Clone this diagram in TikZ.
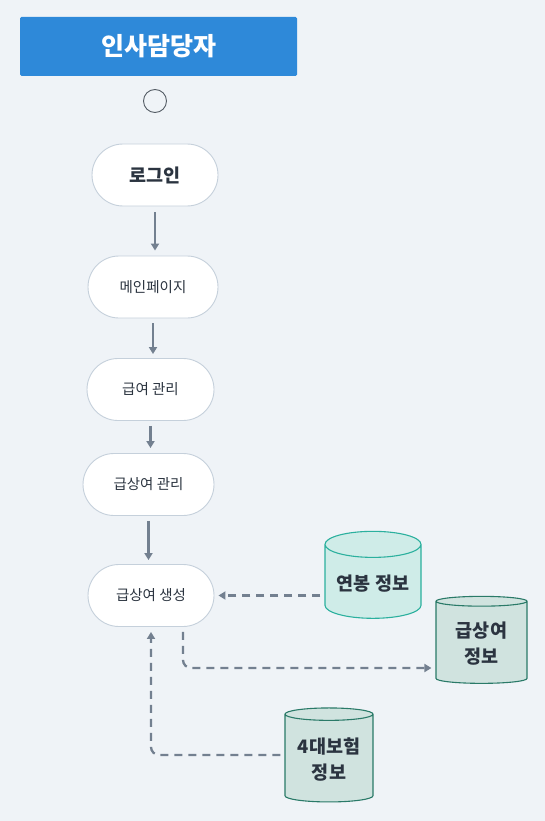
\documentclass[tikz,border=0pt]{standalone}
\usepackage{fontspec}
\setmainfont{Noto Sans CJK KR}
\usepackage{tikz}
\usetikzlibrary{arrows.meta, positioning, shapes.geometric, calc}

\definecolor{bgcol}{HTML}{EFF3F7}
\definecolor{titleblue}{HTML}{2E89D9}
\definecolor{edgegray}{HTML}{C5D0DB}
\definecolor{arrowgray}{HTML}{738090}
\definecolor{inkcol}{HTML}{2B3440}
\definecolor{tealfill}{HTML}{CFECE8}
\definecolor{tealline}{HTML}{2BB09E}
\definecolor{sagefill}{HTML}{D0E3DF}
\definecolor{sageline}{HTML}{2A7A68}

\tikzset{
    stepnode/.style={draw=edgegray, line width=0.9pt, fill=white, rounded corners=31pt,
        minimum height=62pt, text=inkcol, font=\fontsize{14.5}{17}\selectfont},
    flow/.style={->, draw=arrowgray, line width=2.3pt, >={Triangle[length=7pt, width=8pt]}},
    dataflow/.style={->, draw=arrowgray, line width=2.3pt, dash pattern=on 8pt off 6pt,
        >={Triangle[length=7pt, width=8pt]}, rounded corners=8pt},
    store/.style={cylinder, shape border rotate=90, draw, line width=1.1pt,
        text=inkcol, align=center, font=\bfseries\fontsize{18.5}{26}\selectfont}
}

\begin{document}
\begin{tikzpicture}[x=1pt, y=-1pt]

% ── Background ───────────────────────────────────────────────────
\fill[bgcol] (0,0) rectangle (545,821);
\useasboundingbox (0,0) rectangle (545,821);

% ── Header ───────────────────────────────────────────────────────
\node[fill=titleblue, rounded corners=1.5pt, minimum width=277pt, minimum height=59pt,
    text=white, font=\bfseries\fontsize{25}{28}\selectfont] (actor) at (158.5, 46.5) {인사담당자};

% Start point
\node[circle, draw=inkcol!80, line width=0.9pt, minimum size=23pt, inner sep=0pt] (start) at (155, 101) {};

% ── Flow steps ───────────────────────────────────────────────────
\node[stepnode, minimum width=126pt, font=\bfseries\fontsize{18.5}{20}\selectfont] (login) at (155, 175) {로그인};
\node[stepnode, minimum width=130pt] (mainpage) at (153, 287) {메인페이지};
\node[stepnode, minimum width=127pt] (paymgmt) at (150.5, 389.5) {급여 관리};
\node[stepnode, minimum width=131pt] (bonusmgmt) at (148.5, 484.5) {급상여 관리};
\node[stepnode, minimum width=126pt] (bonusgen) at (151, 595.5) {급상여 생성};

\draw[flow, shorten <=6pt, shorten >=5pt] (login.south) -- (login.south |- mainpage.north);
\draw[flow, shorten <=5pt, shorten >=4pt] (mainpage.south) -- (mainpage.south |- paymgmt.north);
\draw[flow, shorten <=5pt, shorten >=5pt] (paymgmt.south) -- (paymgmt.south |- bonusmgmt.north);
\draw[flow, shorten <=5pt, shorten >=4pt] (bonusmgmt.south) -- (bonusmgmt.south |- bonusgen.north);

% ── Data stores ──────────────────────────────────────────────────
\node[store, draw=tealline, fill=tealfill, aspect=0.33, minimum width=96pt, minimum height=87pt] (salarydb) at (373, 584) {연봉 정보};
\node[store, draw=sageline, fill=sagefill, aspect=0.17, minimum width=91pt, minimum height=87pt] (bonusdb) at (481.5, 643.5) {급상여\\정보};
\node[store, draw=sageline, fill=sagefill, aspect=0.18, minimum width=88pt, minimum height=94pt] (insurdb) at (329, 759.5) {4대보험\\정보};

% Data connectors
\coordinate (genout) at ($(bonusgen.south)+(32,0)$);
\coordinate (bonusin) at ($(bonusdb.west)+(0,-24.5pt)$);
\coordinate (insurout) at ($(insurdb.west)+(0,4.5pt)$);
\draw[dataflow, shorten <=4pt, shorten >=4pt] (salarydb.west |- bonusgen.east) -- (bonusgen.east);
\draw[dataflow, shorten <=5pt, shorten >=4pt] (genout) |- (bonusin);
\draw[dataflow, shorten <=4pt, shorten >=5pt] (insurout) -| (bonusgen.south);

\end{tikzpicture}
\end{document}
